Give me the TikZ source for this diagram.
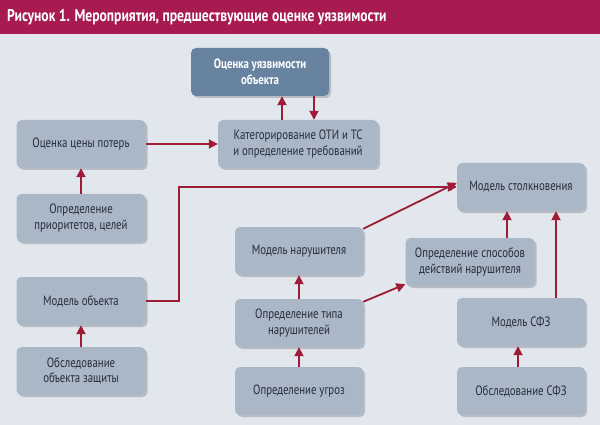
\documentclass[tikz,border=0pt]{standalone}
\usepackage{fontspec}
\setmainfont{PT Sans}[FakeStretch=0.8]
\usetikzlibrary{arrows.meta,shadows}
\definecolor{hdr}{RGB}{168,26,82}
\definecolor{bg}{RGB}{226,231,238}
\definecolor{boxc}{RGB}{170,183,199}
\definecolor{topc}{RGB}{104,131,160}
\definecolor{txt}{RGB}{38,46,58}
\definecolor{arr}{RGB}{158,28,56}
\tikzset{
  box/.style={draw=none, fill=boxc, rounded corners=5pt, minimum width=129pt, minimum height=48pt,
    align=center, text=txt, font=\fontsize{13.5}{15.5}\selectfont, inner sep=2pt,
    drop shadow={shadow xshift=2pt, shadow yshift=-2pt, opacity=0.18, fill=black}},
  topbox/.style={box, fill=topc, text=white, font=\bfseries\fontsize{13.5}{15.5}\selectfont, minimum width=138pt},
  conn/.style={draw=arr, line width=1.8pt, -{Triangle[length=9pt,width=9pt]}},
  plain/.style={draw=arr, line width=1.8pt}
}
\begin{document}
\begin{tikzpicture}[x=1pt,y=-1pt]
\useasboundingbox (0,0) rectangle (600,425);
\fill[bg] (0,0) rectangle (600,425);
\fill[hdr] (0,0) rectangle (600,34);
\node[anchor=west, text=white, font=\bfseries\fontsize{17}{19}\selectfont, inner sep=0pt] (title) at (7,17) {Рисунок 1. Мероприятия, предшествующие оценке уязвимости};

\node[topbox] (ocu) at (260,72) {Оценка уязвимости\\объекта};
\node[box, minimum width=160pt] (kat) at (298,144) {Категорирование ОТИ и ТС\\и определение требований};
\node[box] (ocp) at (81,144) {Оценка цены потерь};
\node[box] (opr) at (81,218) {Определение\\приоритетов, целей};
\node[box] (mob) at (81,301) {Модель объекта};
\node[box] (obz) at (81,371) {Обследование\\объекта защиты};
\node[box, minimum width=128pt] (mst) at (521,187) {Модель столкновения};
\node[box, minimum width=128pt] (mnr) at (299,251) {Модель нарушителя};
\node[box, minimum width=128pt] (otn) at (299,323) {Определение типа\\нарушителей};
\node[box, minimum width=128pt] (ougr) at (299,391) {Определение угроз};
\node[box] (osp) at (470,262) {Определение способов\\действий нарушителя};
\node[box, minimum width=128pt] (sfz) at (521,322) {Модель СФЗ};
\node[box, minimum width=128pt] (osfz) at (521,391) {Обследование СФЗ};

% arrows
\draw[conn] ([xshift=-16pt]kat.north) -- ([xshift=-16pt]kat.north |- ocu.south);
\draw[conn] ([xshift=16pt]kat.north |- ocu.south) -- ([xshift=16pt]kat.north);
\draw[conn] (ocp.east) -- (kat.west);
\draw[conn] (opr.north) -- (ocp.south);
\draw[conn] (obz.north) -- (mob.south);
\draw[conn] (mob.east) -- (179,301) -- (179,187) -- (mst.west);
\draw[conn] ([yshift=-2pt]mnr.north east) -- ([yshift=-20pt]mst.north west);
\draw[conn] (otn.north) -- (mnr.south);
\draw[conn] (ougr.north) -- (otn.south);
\draw[conn] ([yshift=-3pt]otn.north east) -- ([yshift=2pt]osp.south west);
\draw[conn] ([xshift=37pt]osp.north) -- ([xshift=37pt]osp.north |- mst.south);
\draw[conn] ([xshift=35pt]sfz.north) -- ([xshift=35pt]sfz.north |- mst.south);
\draw[conn] ([xshift=-3pt]osfz.north) -- ([xshift=-3pt]sfz.south);
\end{tikzpicture}
\end{document}
